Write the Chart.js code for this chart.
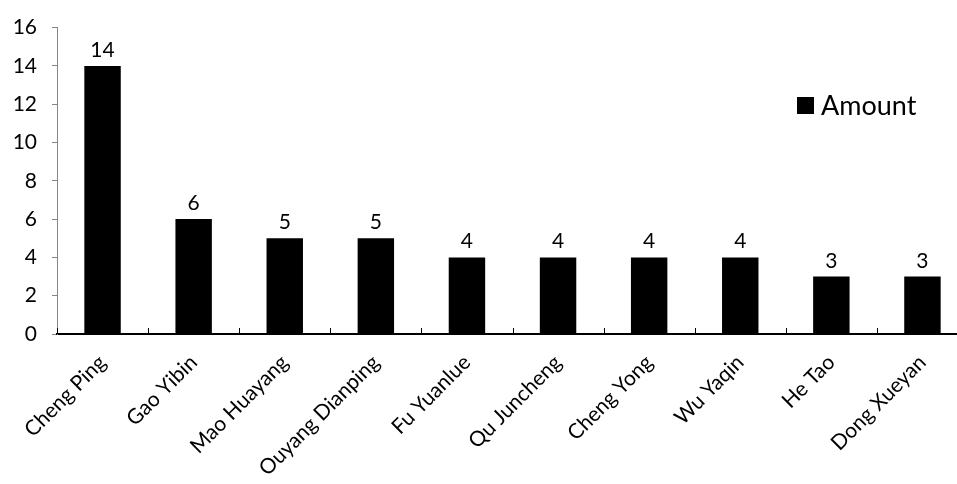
<!DOCTYPE html>
<html>
<head>
<meta charset="utf-8">
<script src="https://cdn.jsdelivr.net/npm/chart.js@4/dist/chart.umd.min.js"></script>
<style>
  html, body { margin: 0; padding: 0; background: #fff; overflow: hidden; }
  #wrap { width: 957px; height: 484px; overflow: hidden; }
  #box { width: 975px; height: 484px; }
</style>
</head>
<body>
<div id="wrap"><div id="box"><canvas id="chart"></canvas></div></div>
<script>
const names = ['Cheng Ping', 'Gao Yibin', 'Mao Huayang', 'Ouyang Dianping', 'Fu Yuanlue',
  'Qu Juncheng', 'Cheng Yong', 'Wu Yaqin', 'He Tao', 'Dong Xueyan']
const amounts = [14, 6, 5, 5, 4, 4, 4, 4, 3, 3]
const seriesName = 'Amount'

const FONT = 'Lato, "Open Sans", sans-serif'

// value labels on top of each bar
const valueLabels = {
  id: 'valueLabels',
  afterDatasetsDraw(chart) {
    const ctx = chart.ctx
    const meta = chart.getDatasetMeta(0)
    ctx.save()
    ctx.font = '21px ' + FONT
    ctx.fillStyle = '#000'
    ctx.textAlign = 'center'
    ctx.textBaseline = 'alphabetic'
    meta.data.forEach((bar, i) => {
      ctx.fillText(String(amounts[i]), bar.x, bar.y - 9)
    })
    ctx.restore()
  }
}

// small inward ticks between categories on the x axis
const innerTicks = {
  id: 'innerTicks',
  afterDraw(chart) {
    const ctx = chart.ctx
    const x = chart.scales.x
    const y0 = chart.chartArea.bottom
    const step = (x.right - x.left) / names.length
    ctx.save()
    ctx.strokeStyle = '#000'
    ctx.lineWidth = 1
    for (let i = 0; i <= names.length; i++) {
      const px = Math.round(x.left + i * step) + 0.5
      ctx.beginPath()
      ctx.moveTo(px, y0)
      ctx.lineTo(px, y0 - 6)
      ctx.stroke()
    }
    ctx.restore()
  }
}

// legend inside the plot, right side
const insideLegend = {
  id: 'insideLegend',
  afterDraw(chart) {
    const ctx = chart.ctx
    ctx.save()
    ctx.fillStyle = '#000'
    ctx.fillRect(797, 97, 17, 17)
    ctx.font = '27px ' + FONT
    ctx.textBaseline = 'middle'
    ctx.textAlign = 'left'
    ctx.fillText(seriesName, 821, 106)
    ctx.restore()
  }
}

new Chart(document.getElementById('chart'), {
  type: 'bar',
  data: {
    labels: names,
    datasets: [{
      label: seriesName,
      data: amounts,
      backgroundColor: '#000',
      borderColor: '#000',
      borderWidth: 0,
      barPercentage: 0.4,
      categoryPercentage: 1
    }]
  },
  options: {
    responsive: true,
    maintainAspectRatio: false,
    animation: false,
    layout: { padding: { top: 23, right: 7, left: 0, bottom: 0 } },
    plugins: { legend: { display: false }, tooltip: { enabled: false } },
    scales: {
      x: {
        grid: { display: false },
        border: { color: '#000', width: 2 },
        ticks: {
          color: '#000',
          font: { size: 21, family: FONT },
          minRotation: 45,
          maxRotation: 45,
          padding: 8
        },
        afterFit(scale) { scale.height = 150 }
      },
      y: {
        min: 0,
        max: 16,
        grid: { drawOnChartArea: false, color: '#868686', tickLength: 5 },
        border: { color: '#868686', width: 1 },
        ticks: {
          stepSize: 2,
          color: '#000',
          font: { size: 21, family: FONT },
          padding: 15
        },
        afterFit(scale) { scale.width = 57 }
      }
    }
  },
  plugins: [valueLabels, innerTicks, insideLegend]
})
</script>
</body>
</html>
